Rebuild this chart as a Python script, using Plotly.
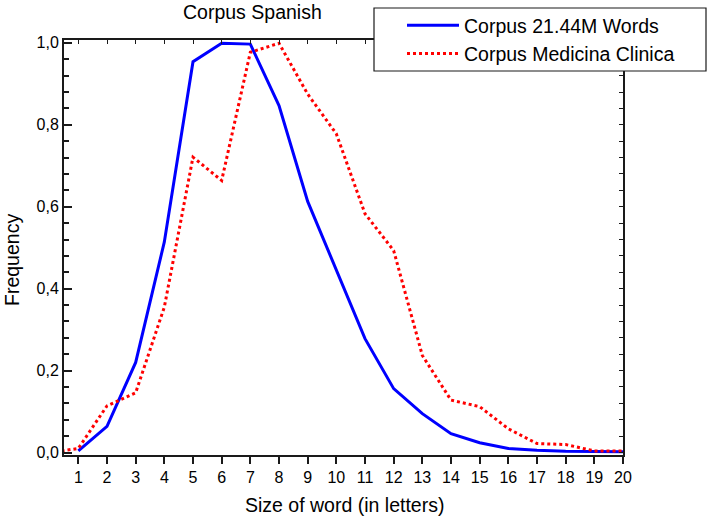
import plotly.graph_objects as go

word_len_blue = list(range(1, 21))
freq_blue = [0.004, 0.064, 0.220, 0.514, 0.954, 0.999, 0.997, 0.847, 0.613, 0.447,
             0.278, 0.156, 0.095, 0.046, 0.024, 0.010, 0.0055, 0.003, 0.002, 0.002]

word_len_red = list(range(0, 21))
freq_red = [0.0, 0.010, 0.114, 0.146, 0.355, 0.721, 0.664, 0.977, 0.999, 0.875, 0.778,
            0.583, 0.493, 0.237, 0.128, 0.112, 0.058, 0.022, 0.0195, 0.004, 0.004]

x_ticks = list(range(1, 21))
y_ticks = [0.0, 0.2, 0.4, 0.6, 0.8, 1.0]

name_blue = "Corpus 21.44M Words"
name_red = "Corpus Medicina Clinica"

FONT = "Liberation Sans, Arial, sans-serif"
AX = "#1a1a1a"
TXT = 19.5

fig = go.Figure()
fig.add_trace(go.Scatter(x=word_len_blue, y=freq_blue, mode="lines", name=name_blue,
                         line=dict(color="#0000ff", width=3)))
fig.add_trace(go.Scatter(x=word_len_red, y=freq_red, mode="lines", name=name_red,
                         line=dict(color="#ff0000", width=3, dash="dot")))
# helper (empty) trace so the mirrored top/right axes are drawn
fig.add_trace(go.Scatter(x=[None], y=[None], xaxis="x2", yaxis="y2", showlegend=False,
                         hoverinfo="skip"))

xr = [0.5, 20]
yr = [-0.006, 1.007]

fig.update_layout(
    width=707, height=520,
    margin=dict(l=64, r=84, t=40, b=65, autoexpand=False),
    paper_bgcolor="white", plot_bgcolor="white",
    separators=",.",
    font=dict(family=FONT, color="black", size=16),
    showlegend=True,
    legend=dict(x=(402 - 64) / 559, y=(455 - 6) / 415, xanchor="left", yanchor="top",
                bgcolor="rgba(0,0,0,0)", borderwidth=0, font=dict(size=TXT),
                itemwidth=52, tracegroupgap=0),
    xaxis=dict(range=xr, tickvals=x_ticks, ticks="outside", ticklen=7, tickwidth=1.5,
               tickcolor=AX, showline=True, linecolor=AX, linewidth=2, showgrid=False,
               zeroline=False, tickfont=dict(size=16), automargin=False),
    yaxis=dict(range=yr, tickvals=y_ticks, tickformat=".1f", ticks="inside", ticklen=8,
               tickwidth=1.5, tickcolor=AX, showline=True, linecolor=AX, linewidth=2,
               showgrid=False, zeroline=False, tickfont=dict(size=16), automargin=False,
               minor=dict(dtick=0.04, tick0=0, ticks="inside", ticklen=5, tickwidth=1.5,
                          tickcolor=AX, showgrid=False)),
    xaxis2=dict(range=xr, overlaying="x", side="top", tickvals=x_ticks, ticks="inside",
                ticklen=4, tickwidth=1, tickcolor=AX, showline=True, linecolor=AX,
                linewidth=2, showticklabels=False, showgrid=False, zeroline=False,
                automargin=False),
    yaxis2=dict(range=yr, overlaying="y", side="right", dtick=0.04, tick0=0, ticks="inside",
                ticklen=4, tickwidth=1, tickcolor=AX, showline=True, linecolor=AX,
                linewidth=2, showticklabels=False, showgrid=False, zeroline=False,
                automargin=False),
    shapes=[dict(type="rect", xref="paper", yref="paper",
                 x0=(374 - 64) / 559, x1=(706 - 64) / 559,
                 y0=(455 - 71) / 415, y1=(455 - 8) / 415,
                 fillcolor="white", line=dict(color=AX, width=1.2), layer="above")],
    annotations=[
        dict(text="Corpus Spanish", xref="paper", yref="paper",
             x=(252 - 64) / 559, y=(455 - 12) / 415, xanchor="center", yanchor="middle",
             showarrow=False, font=dict(size=TXT)),
        dict(text="Size of word (in letters)", xref="paper", yref="paper",
             x=(344 - 64) / 559, y=(455 - 505) / 415, xanchor="center", yanchor="middle",
             showarrow=False, font=dict(size=TXT)),
        dict(text="Frequency", xref="paper", yref="paper", textangle=-90,
             x=(12 - 64) / 559, y=(455 - 260) / 415, xanchor="center", yanchor="middle",
             showarrow=False, font=dict(size=TXT)),
    ],
)

fig.write_html("out.html", config={"displayModeBar": False},
               post_script="document.body.style.margin='0';document.body.style.overflow='hidden';")
